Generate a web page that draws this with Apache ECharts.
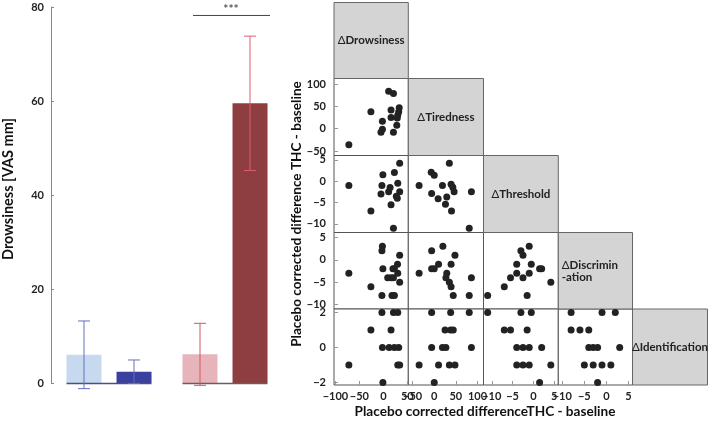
<!DOCTYPE html>
<html>
<head>
<meta charset="utf-8">
<script src="https://cdn.jsdelivr.net/npm/echarts@6/dist/echarts.min.js"></script>
<style>html,body{margin:0;padding:0;background:#fff}#c{width:708px;height:422px}</style>
</head>
<body>
<div id="c"></div>
<script>
// ---------- Bar chart data ----------
const groups = ['Group A', 'Group B'];
const lightMeans = [6.0, 6.1];
const lightSD = [7.2, 6.6];
const darkMeans = [2.4, 59.5];
const darkSD = [2.5, 14.3];
const barTicks = [0, 20, 40, 60, 80];
const sigLevel = [78.2];
const sigText = ['***'];

// ---------- Scatter matrix data ----------
const varNames = ['Drowsiness', 'Tiredness', 'Threshold', 'Discrimin\n-ation', 'Identification'];
const tiredVsDrowsy = [[-72,-36],[-26,38],[-2,17],[-2,-1],[-5,-8],[11,84],[21,79],[16,42],[16,25],[21,-8],[28,8],[33,47],[32,38],[30,31],[29,24]];
const thresholdVsDrowsy = [[-72,-1],[-26,-7],[-1,1.5],[-3,-1],[-5,-3],[11,-2.5],[14,-1.5],[16,-5.5],[23,2],[21,-11],[30,-0.5],[34,4.2],[34,-2.5],[29,-4],[27,-3.5]];
const thresholdVsTired = [[-35,-1],[-7,2.1],[0,1.4],[-6,-2.9],[9,-4.1],[19,-1],[35,4.2],[39,-0.7],[43,-1.4],[46,-2.5],[29,-3.7],[26,-5.4],[40,-7],[86,-2.5],[81,-11]];
const discrimVsDrowsy = [[-72,-3],[-26,-6],[-2,3],[-3,2],[-1,-2],[20,-2],[23,-2],[9,-4],[16,-4],[21,-4],[-3,-8],[18,-8],[23,-8],[29.5,-1],[30,-3],[34,1],[34,-5]];
const discrimVsTired = [[-35,-3],[-6,2],[20,3],[-6,-2],[0,-2],[10,-1],[29,-3],[27,-4],[39,-1],[48,1],[35,-5],[39,-6],[44,-8],[81,-8],[86,-4]];
const discrimVsThreshold = [[-11,-8],[-7,-6],[-5.5,-4],[-4,-1],[-4,-3],[-3,2],[-2.5,1],[-2.5,-4],[-1,3],[-1,-3],[-0.5,-1],[-1.5,-8],[1.5,-2],[2,-2],[4.2,-5]];
const identVsDrowsy = [[-3,2],[21,2],[30,2],[-26,1],[16,1],[-2,0],[12,0],[23,0],[32,0],[-72,-1],[30,-1],[34,-1],[-1,-2]];
const identVsTired = [[-6,2],[38,2],[81,2],[25,1],[38,1],[44,1],[-6,0],[19,0],[27,0],[86,0],[-35,-1],[10,-1],[35,-1],[48,-1],[0,-2]];
const identVsThreshold = [[-11,2],[-3,2],[-0.5,2],[-7,1],[-5.5,1],[-1.5,1],[-4,0],[-2.5,0],[-1,0],[2,0],[-4,-1],[-2.5,-1],[-1,-1],[4.2,-1],[1.5,-2]];
const identVsDiscrim = [[-8,2],[-1,2],[2,2],[-8,1],[-6,1],[-4,1],[-4,0],[-3,0],[-2,0],[3,0],[-5,-1],[-3,-1],[-1,-1],[1,-1],[-2,-2]];

// axis ranges and tick labels per variable
const xRanges = [[-103, 52], [-60, 114], [-12, 6], [-10.9, 5.9]];
const xTickVals = [[-100,-50,0,50], [-50,0,50,100], [-10,-5,0,5], [-10,-5,0,5]];
const yRanges = [null, [-60, 112.5], [-12, 6], [-11, 6.1], [-2.15, 2.2]];
const yTickVals = [null, [-50,0,50,100], [-10,-5,0,5], [-10,-5,0,5], [-2,0,2]];

// ---------- Layout ----------
const colEdges = [334, 408.3, 483.5, 558.3, 632.5, 707.5];
const rowEdges = [2.5, 78.5, 155.5, 232.5, 309, 385];
const FONT = 'Lato, "DejaVu Sans", sans-serif';
const minusFmt = (v) => String(v).replace('-', '\u2212');

const panels = [
  {r:1, c:0, d:tiredVsDrowsy},
  {r:2, c:0, d:thresholdVsDrowsy}, {r:2, c:1, d:thresholdVsTired},
  {r:3, c:0, d:discrimVsDrowsy}, {r:3, c:1, d:discrimVsTired}, {r:3, c:2, d:discrimVsThreshold},
  {r:4, c:0, d:identVsDrowsy}, {r:4, c:1, d:identVsTired}, {r:4, c:2, d:identVsThreshold}, {r:4, c:3, d:identVsDiscrim}
];

const grid = [{left: 51, top: 7, width: 232, height: 376}];
const xAxis = [{
  type: 'category', gridIndex: 0, data: groups,
  axisLine: {show: false}, axisTick: {show: false}, axisLabel: {show: false}
}];
const yAxis = [{
  type: 'value', gridIndex: 0, min: barTicks[0], max: barTicks[barTicks.length-1], interval: 20,
  splitLine: {show: false},
  axisLine: {show: true, lineStyle: {color: '#888', width: 1}},
  axisTick: {show: true, inside: true, length: 3, lineStyle: {color: '#888'}},
  axisLabel: {color: '#222', fontFamily: FONT, fontWeight: 'bold', fontSize: 11, margin: 7}
}];
const series = [];

const lightColors = ['#c7d9ee', '#e6b4ba'];
const darkColors = ['#3b3f9d', '#8e3e41'];
const errColors = [['#6470bb', '#6470bb'], ['#cf5664', '#d9606c']];
const baseColors = ['#4b4f86', '#6d5c5e'];

series.push({
  type: 'bar', xAxisIndex: 0, yAxisIndex: 0, barWidth: 35, barGap: '43%',
  data: lightMeans.map((v, i) => ({value: v, itemStyle: {color: lightColors[i]}})),
  z: 2
});
series.push({
  type: 'bar', xAxisIndex: 0, yAxisIndex: 0, barWidth: 35,
  data: darkMeans.map((v, i) => ({value: v, itemStyle: {color: darkColors[i]}})),
  z: 2
});
// baselines under each group
series.push({
  type: 'custom', xAxisIndex: 0, yAxisIndex: 0, clip: false, z: 3,
  data: groups.map((g, i) => [i, 0]),
  renderItem: function (params, api) {
    const i = api.value(0);
    const c = api.coord([i, 0]);
    return {type: 'line', shape: {x1: c[0] - 42.5, y1: c[1] + 0.5, x2: c[0] + 42.5, y2: c[1] + 0.5},
      style: {stroke: baseColors[i], lineWidth: 1.3}};
  }
});
// error bars
const errData = [];
groups.forEach((g, i) => {
  errData.push([i, 0, lightMeans[i], lightSD[i]]);
  errData.push([i, 1, darkMeans[i], darkSD[i]]);
});
series.push({
  type: 'custom', xAxisIndex: 0, yAxisIndex: 0, clip: false, z: 4,
  data: errData,
  encode: {x: 0, y: 2},
  renderItem: function (params, api) {
    const i = api.value(0), k = api.value(1), m = api.value(2), s = api.value(3);
    const c = api.coord([i, m]);
    const x = c[0] + (k === 0 ? -25 : 25);
    const yt = api.coord([i, m + s])[1];
    const yb = api.coord([i, m - s])[1];
    const st = {stroke: errColors[i][k], lineWidth: 1};
    return {type: 'group', children: [
      {type: 'line', shape: {x1: x, y1: yt, x2: x, y2: yb}, style: st},
      {type: 'line', shape: {x1: x - 6, y1: yt, x2: x + 6, y2: yt}, style: st},
      {type: 'line', shape: {x1: x - 6, y1: yb, x2: x + 6, y2: yb}, style: st}
    ]};
  }
});
// significance bracket
series.push({
  type: 'custom', xAxisIndex: 0, yAxisIndex: 0, clip: false, z: 4,
  data: [[1, sigLevel[0]]],
  renderItem: function (params, api) {
    const c = api.coord([api.value(0), api.value(1)]);
    return {type: 'group', children: [
      {type: 'line', shape: {x1: c[0] - 32, y1: c[1], x2: c[0] + 45, y2: c[1]}, style: {stroke: '#444', lineWidth: 1}},
      {type: 'text', x: c[0] + 6, y: c[1] - 6, style: {text: sigText[0], fill: '#555', font: 'bold 12px ' + FONT, align: 'center', verticalAlign: 'middle'}}
    ]};
  }
});

// ---------- scatter panels ----------
panels.forEach((p) => {
  const gi = grid.length;
  grid.push({
    left: colEdges[p.c], top: rowEdges[p.r],
    width: colEdges[p.c+1] - colEdges[p.c], height: rowEdges[p.r+1] - rowEdges[p.r],
    show: true, borderColor: '#555', borderWidth: 1, backgroundColor: '#fff'
  });
  const bottom = p.r === 4, left = p.c === 0;
  xAxis.push({
    type: 'value', gridIndex: gi, min: xRanges[p.c][0], max: xRanges[p.c][1], position: 'bottom',
    splitLine: {show: false}, axisLine: {show: false, onZero: false},
    axisTick: {show: bottom, inside: true, length: 4, customValues: xTickVals[p.c], lineStyle: {color: '#999'}},
    axisLabel: {show: bottom, customValues: xTickVals[p.c], formatter: minusFmt, color: '#222', fontFamily: FONT, fontWeight: 'bold', fontSize: 11, margin: 6}
  });
  yAxis.push({
    type: 'value', gridIndex: gi, min: yRanges[p.r][0], max: yRanges[p.r][1], position: 'left',
    splitLine: {show: false}, axisLine: {show: false, onZero: false},
    axisTick: {show: left, inside: true, length: 4, customValues: yTickVals[p.r], lineStyle: {color: '#999'}},
    axisLabel: {show: left, customValues: yTickVals[p.r], formatter: minusFmt, color: '#222', fontFamily: FONT, fontWeight: 'bold', fontSize: 11, margin: 8}
  });
  series.push({
    type: 'scatter', xAxisIndex: gi, yAxisIndex: gi, data: p.d,
    symbolSize: 7, itemStyle: {color: '#222', opacity: 1}, z: 3
  });
});

// ---------- graphics: diagonal boxes and titles ----------
const graphic = [];
for (let k = 0; k < 5; k++) {
  const x0 = colEdges[k], x1 = colEdges[k+1], y0 = rowEdges[k], y1 = rowEdges[k+1];
  graphic.push({type: 'rect', shape: {x: x0, y: y0, width: x1 - x0, height: y1 - y0},
    style: {fill: '#d4d4d4', stroke: '#666', lineWidth: 1}, z: 1});
  const leftAlign = k === 3;
  graphic.push({type: 'text', x: leftAlign ? x0 + 3.5 : (x0 + x1) / 2, y: (y0 + y1) / 2 + (leftAlign ? 1 : 0), z: 2,
    style: {text: '{d|Δ}{b|' + varNames[k].split('\n').join('}\n{b|') + '}',
      rich: {d: {font: '11.5px ' + FONT, fill: '#222'}, b: {font: 'bold 11.5px ' + FONT, fill: '#222', lineHeight: 12}},
      align: leftAlign ? 'left' : 'center', verticalAlign: 'middle'}});
}
graphic.push({type: 'text', x: 297, y: 214, rotation: Math.PI / 2, z: 2,
  style: {text: 'Placebo corrected difference THC - baseline', font: 'bold 13.6px ' + FONT, fill: '#111', align: 'center', verticalAlign: 'middle'}});
graphic.push({type: 'text', x: 485, y: 412, z: 2,
  style: {text: 'Placebo corrected differenceTHC - baseline', font: 'bold 13.6px ' + FONT, fill: '#111', align: 'center', verticalAlign: 'middle'}});
graphic.push({type: 'text', x: 8, y: 189, rotation: Math.PI / 2, z: 2,
  style: {text: 'Drowsiness [VAS mm]', font: 'bold 14.5px ' + FONT, fill: '#111', align: 'center', verticalAlign: 'middle'}});

const chart = echarts.init(document.getElementById('c'), null, {renderer: 'canvas'});
chart.setOption({
  animation: false,
  backgroundColor: '#fff',
  textStyle: {fontFamily: FONT},
  grid, xAxis, yAxis, series, graphic
});
</script>
</body>
</html>
